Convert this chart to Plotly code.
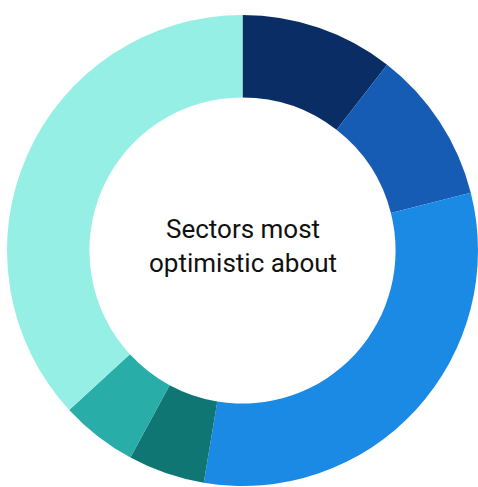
import plotly.graph_objects as go

# Survey responses per sector (count of respondents)
sectors = ["Sector 1", "Sector 2", "Sector 3", "Sector 4", "Sector 5", "Sector 6"]
responses = [2, 2, 6, 1, 1, 7]
colors = ["#0B2D66", "#165CB4", "#1A8AE4", "#0F7673", "#28ADA8", "#95EFE5"]

fig = go.Figure(
    go.Pie(
        labels=sectors,
        values=responses,
        hole=0.65,
        sort=False,
        direction="clockwise",
        rotation=0,
        textinfo="none",
        marker=dict(colors=colors, line=dict(width=0)),
        domain=dict(x=[7 / 478, 1.0], y=[0.0, 1 - 14 / 487]),
        showlegend=False,
    )
)

fig.add_annotation(
    text="Sectors most<br>optimistic about",
    x=(7 / 478 + 1.0) / 2,
    y=(1 - 14 / 487) / 2,
    xref="paper",
    yref="paper",
    yshift=5,
    showarrow=False,
    font=dict(family="Roboto", size=26, color="#111111"),
)

fig.update_layout(
    width=478,
    height=487,
    margin=dict(l=0, r=0, t=0, b=0),
    paper_bgcolor="white",
    plot_bgcolor="white",
)

fig.write_html("out.html")
